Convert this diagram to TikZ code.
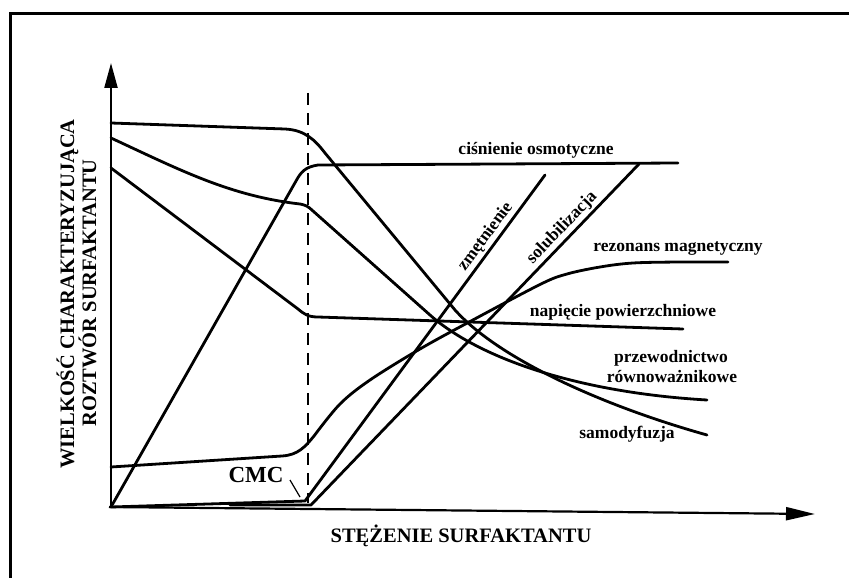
\documentclass[tikz,border=0pt]{standalone}
\usepackage{fontspec}
\setmainfont{Liberation Serif}
\usetikzlibrary{arrows.meta}
\begin{document}
\begin{tikzpicture}[x=1pt,y=-1pt,
  curve/.style={line width=2.8pt,line join=round,line cap=round},
  axisline/.style={line width=2.2pt},
  lbl/.style={inner sep=0pt,font=\bfseries\fontsize{17.5}{19}\selectfont},
  biglbl/.style={inner sep=0pt,font=\bfseries\fontsize{20.5}{22}\selectfont}]
\useasboundingbox (0,0) rectangle (849,578);
\clip (0,0) rectangle (849,578);
\draw[line width=3pt] (10,14) rectangle (870,600);
% axes
\coordinate (O) at (111,508);
\coordinate (Ytip) at (111,63);
\coordinate (Xtip) at (815,514);
\draw[axisline,-{Triangle[length=25pt,width=13pt]}] (O) -- (Ytip);
\draw[axisline,-{Triangle[length=29pt,width=13pt]}] (109,507) -- (Xtip);
% CMC dashed line
\coordinate (Dtop) at (308,93);
\coordinate (Dbot) at (308,503);
\draw[line width=2.5pt,dash pattern=on 12pt off 8pt] (Dtop) -- (Dbot);
% samodyfuzja
\draw[curve] (111,123) -- (285,129) .. controls (305,130) and (315,140) .. (325,153) -- (455,310) .. controls (498,358) and (600,405) .. (707,435);
% przewodnictwo
\draw[curve] (111,138) .. controls (180,170) and (230,196) .. (300,204) .. controls (305,205) and (308,206) .. (313,211) -- (430,315) .. controls (475,355) and (570,392) .. (707,400);
% napiecie
\draw[curve] (111,168) -- (298,309) .. controls (304,314) and (308,317) .. (318,317) -- (683,329);
% cisnienie osmotyczne
\draw[curve] (111,507) -- (296,181) .. controls (301,172) and (305,167) .. (318,165) -- (678,163);
% rezonans
\draw[curve] (111,467) -- (282,456) .. controls (298,455) and (305,447) .. (314,436) -- plot[smooth,tension=0.55] coordinates {(314,436) (340,404) (370,380) (420,349) (471,321) (541,284) (567,274) (600,267) (633,263) (680,262) (728,262)};
% zmetnienie
\coordinate (F0) at (111,507);
\coordinate (Fk) at (305,501);
\coordinate (Ft) at (545,175);
\draw[curve] (F0) -- (Fk) -- (Ft);
% solubilizacja
\coordinate (G0) at (230,505);
\coordinate (Gk) at (311,505);
\coordinate (Gt) at (639,164);
\draw[curve] (G0) -- (Gk) -- (Gt);
% labels
\path (Fk) -- (Ft) node[lbl,sloped,pos=0.79,above=3pt] (zm) {zmętnienie};
\path (Gk) -- (Gt) node[lbl,sloped,pos=0.79,above=3pt] (sol) {solubilizacja};
\node[lbl,anchor=base] (osm) at (536,154) {ciśnienie osmotyczne};
\node[lbl,anchor=base] (rez) at (678,251) {rezonans magnetyczny};
\node[lbl,anchor=base] (nap) at (623,316) {napięcie powierzchniowe};
\node[lbl,anchor=base] (prz1) at (671,362) {przewodnictwo};
\node[lbl,anchor=base] (prz2) at (672,382) {równoważnikowe};
\node[lbl,anchor=base] (sam) at (627,438) {samodyfuzja};
\node[biglbl,anchor=base] (xl) at (461,542) {STĘŻENIE SURFAKTANTU};
\node[inner sep=0pt,font=\bfseries\fontsize{23}{25}\selectfont,anchor=base] (cmc) at (256,482) {CMC};
\coordinate (cmcp) at (300,497);
\draw[line width=1.2pt] (290,480) -- (cmcp);
\node[biglbl,rotate=90,anchor=base] (yl1) at (74,294) {WIELKOŚĆ CHARAKTERYZUJĄCA};
\node[biglbl,rotate=90,anchor=base] (yl2) at (96,293) {ROZTWÓR SURFAKTANTU};
\end{tikzpicture}
\end{document}
